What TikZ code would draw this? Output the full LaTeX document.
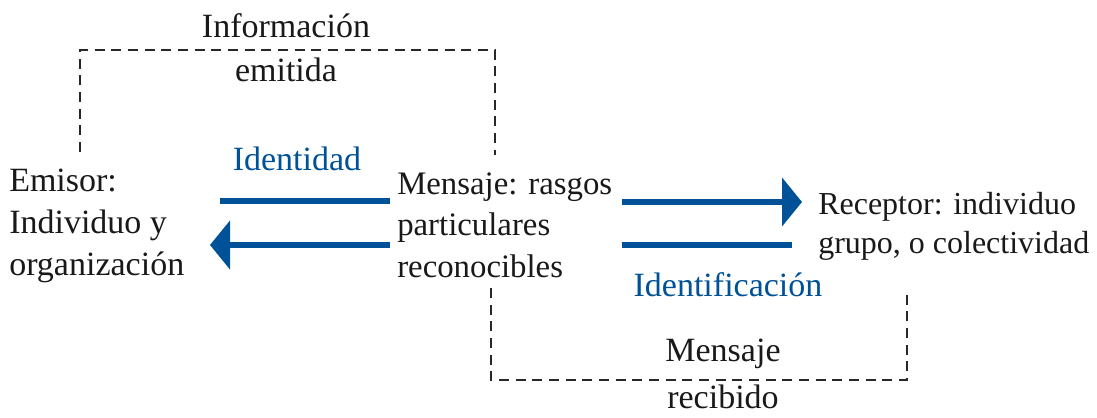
\documentclass[tikz,border=0pt]{standalone}
\usepackage{fontspec}
\setmainfont{Liberation Serif}
\usepackage{xcolor}
\usepackage{tikz}
\usetikzlibrary{arrows.meta}

\definecolor{azulId}{RGB}{0,82,152}
\definecolor{grisLn}{RGB}{40,40,40}

\tikzset{
  txt/.style={inner sep=0pt, align=left, text=black!90,
    font=\fontsize{25.5}{31.2}\selectfont},
  ctxt/.style={txt, align=center},
  azul/.style={inner sep=0pt, text=azulId,
    font=\fontsize{25.5}{31.2}\selectfont},
  flecha/.style={draw=azulId, line width=3.8pt,
    -{Triangle[length=15pt,width=36pt]}},
  barra/.style={draw=azulId, line width=3.8pt},
  retro/.style={draw=grisLn, line width=1.1pt, dash pattern=on 7.5pt off 5pt}
}

\begin{document}
\begin{tikzpicture}[x=0.75pt,y=0.75pt,yscale=-1,xscale=1]
    \useasboundingbox (0,0) rectangle (1097,418);

    % Text Node
    \node [txt, anchor=west] (emisor) at (9,226) {Emisor:\\Individuo y\\organización};
    % Text Node
    \node [txt, anchor=west, font=\fontsize{24.6}{31.2}\selectfont] (mensaje) at (397,225) {Mensaje: rasgos\\particulares\\reconocibles};
    % Text Node
    \node [txt, anchor=west, font=\fontsize{24}{29.3}\selectfont] (receptor) at (818,226) {Receptor: individuo\\grupo, o colectividad};
    % Text Node
    \node [azul] (identidad) at (297,159) {Identidad};
    % Text Node
    \node [azul] (identif) at (728,285) {Identificación};
    % Text Node
    \node [ctxt, font=\fontsize{25.5}{33}\selectfont] (emitida) at (286,48) {Información\\emitida};
    % Text Node
    \node [ctxt, font=\fontsize{25.5}{35.2}\selectfont] (recibido) at (723,374) {Mensaje\\recibido};

    % arrow ends
    \coordinate (idA) at (390,201);
    \coordinate (idB) at (220,201);
    \coordinate (emA) at (390,245);
    \coordinate (emB) at (210,245);
    \coordinate (reA) at (622,202);
    \coordinate (reB) at (802,202);
    \coordinate (ifA) at (622,245);
    \coordinate (ifB) at (792,245);

    \draw [barra] (idA) -- (idB);
    \draw [flecha] (emA) -- (emB);
    \draw [flecha] (reA) -- (reB);
    \draw [barra] (ifA) -- (ifB);

    % dashed loops
    \coordinate (supIzq) at (80,152);
    \coordinate (supDer) at (495,155);
    \draw [retro] (supIzq) -- (80,50) -- (495,50) -- (supDer);
    \coordinate (infIzq) at (491,288);
    \coordinate (infDer) at (907,290);
    \draw [retro] (infIzq) -- (491,380) -- (907,380) -- (infDer);

\end{tikzpicture}
\end{document}
